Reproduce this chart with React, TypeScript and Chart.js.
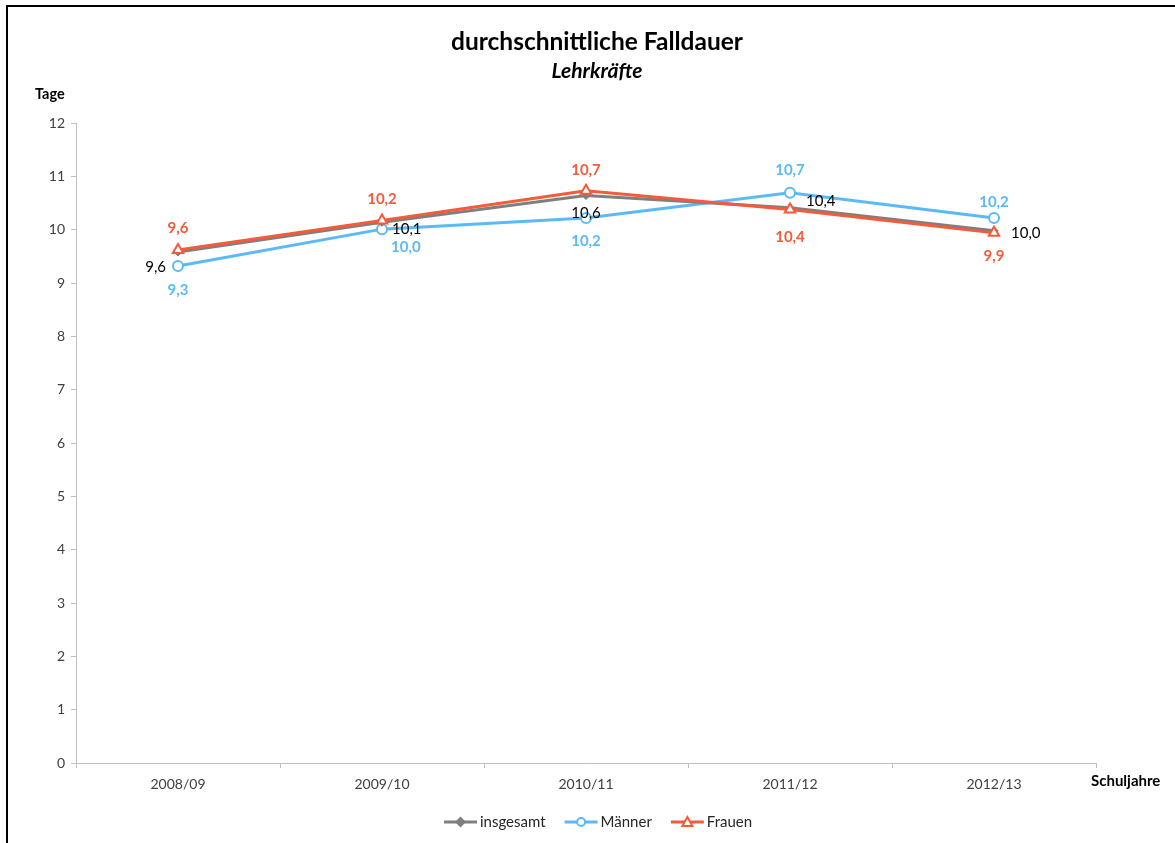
import React, { useEffect, useRef } from "react";
import { Chart, registerables } from "chart.js";

Chart.register(...registerables);

const categories = ["2008/09", "2009/10", "2010/11", "2011/12", "2012/13"];
const insgesamt = [9.58, 10.14, 10.64, 10.41, 9.98];
const maenner = [9.32, 10.01, 10.22, 10.69, 10.22];
const frauen = [9.62, 10.17, 10.73, 10.38, 9.94];
const yTicks = [0, 1, 2, 3, 4, 5, 6, 7, 8, 9, 10, 11, 12];

const TITLE = "durchschnittliche Falldauer";
const SUBTITLE = "Lehrkräfte";
const Y_TITLE = "Tage";
const X_TITLE = "Schuljahre";

const GREY = "#7F7F7F";
const BLUE = "#5BBAF5";
const RED = "#F35B3B";
const FONT = "Lato, 'Open Sans', sans-serif";

// label placement per point: [dx, dy, textAlign]
const labelLayout: Record<string, [number, number, CanvasTextAlign][]> = {
  insgesamt: [
    [-12, 15, "right"],
    [10, 7, "left"],
    [0, 18, "center"],
    [16, -7, "left"],
    [17, 2, "left"],
  ],
  maenner: [
    [0, 24, "center"],
    [9, 18, "left"],
    [0, 23, "center"],
    [0, -23, "center"],
    [0, -16, "center"],
  ],
  frauen: [
    [0, -22, "center"],
    [0, -21, "center"],
    [0, -21, "center"],
    [0, 28, "center"],
    [0, 23, "center"],
  ],
};

const fmt = (v: number) => v.toFixed(1).replace(".", ",");

function drawMarker(ctx: CanvasRenderingContext2D, style: string, x: number, y: number, r: number, fill: string, stroke: string) {
  ctx.save();
  ctx.fillStyle = fill;
  ctx.strokeStyle = stroke;
  ctx.lineWidth = 2;
  ctx.beginPath();
  if (style === "circle") {
    ctx.arc(x, y, r, 0, Math.PI * 2);
  } else if (style === "rectRot") {
    ctx.moveTo(x, y - r);
    ctx.lineTo(x + r, y);
    ctx.lineTo(x, y + r);
    ctx.lineTo(x - r, y);
    ctx.closePath();
  } else {
    ctx.moveTo(x, y - r);
    ctx.lineTo(x + r, y + r * 0.8);
    ctx.lineTo(x - r, y + r * 0.8);
    ctx.closePath();
  }
  ctx.fill();
  ctx.stroke();
  ctx.restore();
}

const decorPlugin = {
  id: "decor",
  beforeDraw(chart: any) {
    const ctx = chart.ctx;
    ctx.save();
    ctx.fillStyle = "#ffffff";
    ctx.fillRect(0, 0, chart.width, chart.height);
    ctx.fillStyle = "#000000";
    ctx.fillRect(6, 5, chart.width - 6, 2);
    ctx.fillRect(6, 5, 2, chart.height - 5);
    ctx.restore();
  },
  afterDraw(chart: any) {
    const ctx = chart.ctx;
    ctx.save();
    ctx.textBaseline = "middle";
    ctx.fillStyle = "#000000";
    ctx.textAlign = "center";
    ctx.font = `bold 24.5px ${FONT}`;
    ctx.fillText(TITLE, 597, 42);
    ctx.font = `italic bold 21px ${FONT}`;
    ctx.fillText(SUBTITLE, 597, 71);
    ctx.textAlign = "left";
    ctx.font = `bold 14.5px ${FONT}`;
    ctx.fillText(Y_TITLE, 35, 94);
    ctx.font = `bold 15px ${FONT}`;
    ctx.fillText(X_TITLE, 1091, 781);

    // legend
    const items = [
      { label: "insgesamt", color: GREY, style: "rectRot", r: 4, fill: GREY },
      { label: "Männer", color: BLUE, style: "circle", r: 4, fill: "#ffffff" },
      { label: "Frauen", color: RED, style: "triangle", r: 5, fill: "#ffffff" },
    ];
    const ly = 822;
    ctx.font = `15px ${FONT}`;
    let x = 444;
    items.forEach((it) => {
      ctx.strokeStyle = it.color;
      ctx.lineWidth = 3;
      ctx.beginPath();
      ctx.moveTo(x, ly);
      ctx.lineTo(x + 33, ly);
      ctx.stroke();
      drawMarker(ctx, it.style, x + 16.5, ly, it.r, it.fill, it.color);
      ctx.fillStyle = "#262626";
      ctx.textAlign = "left";
      ctx.fillText(it.label, x + 36, ly);
      x += 36 + ctx.measureText(it.label).width + 19;
    });
    ctx.restore();
  },
  afterDatasetsDraw(chart: any) {
    const ctx = chart.ctx;
    ctx.save();
    ctx.textBaseline = "middle";
    chart.data.datasets.forEach((ds: any, i: number) => {
      const meta = chart.getDatasetMeta(i);
      const layout = labelLayout[ds.key];
      ctx.font = ds.key === "insgesamt" ? `15px ${FONT}` : `bold 15px ${FONT}`;
      ctx.fillStyle = ds.key === "insgesamt" ? "#000000" : ds.borderColor;
      meta.data.forEach((pt: any, j: number) => {
        const [dx, dy, align] = layout[j];
        ctx.textAlign = align;
        ctx.fillText(fmt(ds.data[j]), pt.x + dx, pt.y + dy);
      });
    });
    ctx.restore();
  },
};

export default function App() {
  const ref = useRef<HTMLCanvasElement>(null);
  useEffect(() => {
    if (!ref.current) return;
    const chart = new Chart(ref.current, {
      type: "line",
      data: {
        labels: categories,
        datasets: [
          {
            key: "insgesamt",
            label: "insgesamt",
            data: insgesamt,
            borderColor: GREY,
            backgroundColor: GREY,
            borderWidth: 3,
            pointStyle: "rectRot",
            pointRadius: 4,
            pointBorderWidth: 1,
            order: 1,
          } as any,
          {
            key: "maenner",
            label: "Männer",
            data: maenner,
            borderColor: BLUE,
            backgroundColor: "#ffffff",
            borderWidth: 3,
            pointStyle: "circle",
            pointRadius: 5,
            pointBorderWidth: 2,
            order: 2,
          } as any,
          {
            key: "frauen",
            label: "Frauen",
            data: frauen,
            borderColor: RED,
            backgroundColor: "#ffffff",
            borderWidth: 3,
            pointStyle: "triangle",
            pointRadius: 6,
            pointBorderWidth: 2,
            order: 0,
          } as any,
        ],
      },
      options: {
        responsive: false,
        animation: false,
        layout: { padding: { top: 123, right: 79, bottom: 0, left: 0 } },
        plugins: {
          legend: { display: false },
          tooltip: { enabled: false },
          title: { display: false },
        },
        scales: {
          x: {
            type: "category",
            offset: true,
            grid: { display: true, drawOnChartArea: false, offset: true, tickLength: 5, color: "#BFBFBF" },
            border: { color: "#BFBFBF", width: 1 },
            ticks: { color: "#404040", font: { family: FONT, size: 14 }, padding: 8, maxRotation: 0 },
            afterFit: (s: any) => {
              s.height = 80;
            },
          },
          y: {
            min: 0,
            max: 12,
            afterBuildTicks: (s: any) => {
              s.ticks = yTicks.map((v) => ({ value: v }));
            },
            grid: { display: true, drawOnChartArea: false, tickLength: 5, color: "#BFBFBF" },
            border: { color: "#BFBFBF", width: 1 },
            ticks: { color: "#404040", font: { family: FONT, size: 14 }, padding: 6 },
            afterFit: (s: any) => {
              s.width = 76;
            },
          },
        },
      },
      plugins: [decorPlugin],
    });
    return () => chart.destroy();
  }, []);
  return (
    <div style={{ position: "absolute", left: 0, top: 0, width: 1175, height: 843 }}>
      <canvas ref={ref} width={1175} height={843} style={{ display: "block" }} />
    </div>
  );
}
